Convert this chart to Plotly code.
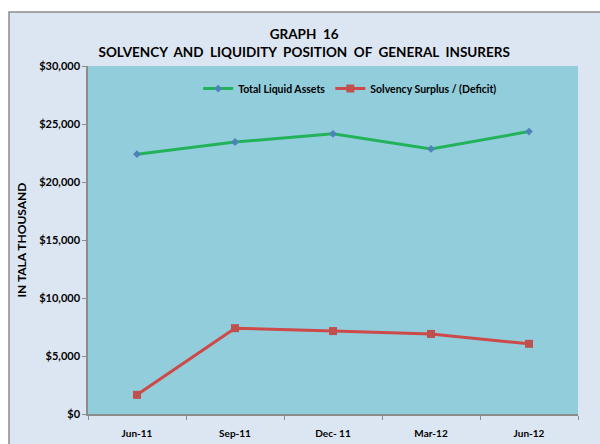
import plotly.graph_objects as go

quarters = ["Jun-11", "Sep-11", "Dec-11", "Mar-12", "Jun-12"]
quarter_labels = ["Jun-11", "Sep-11", "Dec- 11", "Mar-12", "Jun-12"]
liquid_assets = [22400, 23450, 24150, 22850, 24350]
solvency_surplus = [1650, 7400, 7150, 6900, 6050]
y_ticks = [0, 5000, 10000, 15000, 20000, 25000, 30000]

FONT = "Lato"

fig = go.Figure()
fig.add_trace(go.Scatter(x=quarters, y=liquid_assets, name="<b>Total Liquid Assets</b>",
                         mode="lines+markers", line=dict(color="#22b35a", width=3),
                         marker=dict(symbol="diamond", size=6, color="#4f81bd",
                                     line=dict(color="#4f81bd", width=0))))
fig.add_trace(go.Scatter(x=quarters, y=solvency_surplus, name="<b>Solvency Surplus / (Deficit)</b>",
                         mode="lines+markers", line=dict(color="#cd4a48", width=3),
                         marker=dict(symbol="square", size=8, color="#c0504d")))

# outer chart frame (light grey-blue panel with a grey border), then the plot area fill on top
fig.add_shape(type="rect", xref="paper", yref="paper",
              x0=-79 / 490, x1=1.1, y0=-0.2, y1=(414 - 12) / 348,
              fillcolor="#dce6f2", line=dict(color="#8c8c8c", width=1.5), layer="below")
fig.add_shape(type="rect", xref="paper", yref="paper", x0=0, x1=1, y0=0, y1=1,
              fillcolor="#92cddc", line=dict(width=0), layer="below")

fig.update_layout(
    width=600, height=444,
    margin=dict(l=88, r=22, t=66, b=30),
    paper_bgcolor="white", plot_bgcolor="#92cddc",
    font=dict(family=FONT, size=10, color="black"),
    title=dict(text="<b>GRAPH  16</b><br><b>SOLVENCY  AND  LIQUIDITY  POSITION  OF  GENERAL  INSURERS</b>",
               x=0.507, xanchor="center", y=0.912, yanchor="middle",
               font=dict(family=FONT, size=13.5, color="black")),
    legend=dict(orientation="h", x=0.535, xanchor="center", y=0.935, yanchor="middle",
                bgcolor="rgba(0,0,0,0)", font=dict(family=FONT, size=10.5),
                itemwidth=30, tracegroupgap=0),
    showlegend=True,
)
fig.update_xaxes(categoryorder="array", categoryarray=quarters, range=[-0.5, 4.5], automargin=False,
                 tickvals=quarters, ticktext=["<b>%s</b>" % t for t in quarter_labels],
                 showline=True, linecolor="#8c8c8c", linewidth=1.5, mirror=False,
                 ticks="outside", tickson="boundaries", ticklen=4, tickcolor="#8c8c8c",
                 ticklabelstandoff=9, showgrid=False, tickfont=dict(size=10))
fig.update_yaxes(range=[0, 30000], tickvals=y_ticks, automargin=False,
                 ticktext=["<b>$%s</b>" % format(v, ",") for v in y_ticks],
                 showline=True, linecolor="#8c8c8c", linewidth=1.5,
                 ticks="outside", ticklen=4, tickcolor="#8c8c8c", showgrid=False, zeroline=False,
                 tickfont=dict(size=11),
                 title=dict(text="<b>IN TALA THOUSAND</b>", font=dict(size=12), standoff=10))

fig.write_html("out.html", config={"displayModeBar": False},
               post_script="document.body.style.margin='0';")
